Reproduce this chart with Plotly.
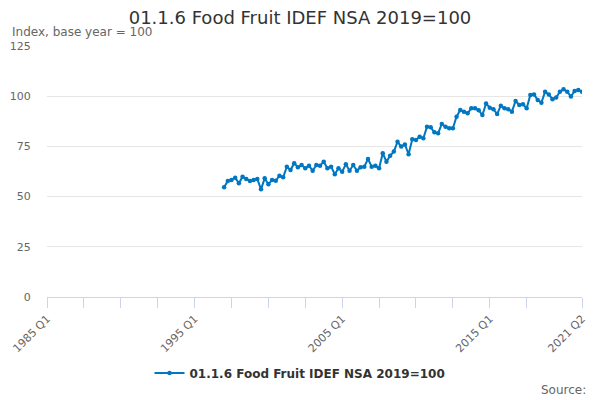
import plotly.graph_objects as go

# quarter categories on the axis: 1985 Q1 .. 2021 Q2
quarters = [f"{y} Q{q}" for y in range(1985, 2022) for q in range(1, 5)][:146]

series_name = "01.1.6 Food Fruit IDEF NSA 2019=100"
first_quarter = "1997 Q1"
values = [
    54.6, 57.8, 58.3, 59.4,   # 1997
    56.6, 59.9, 58.8, 57.8,   # 1998
    58.3, 58.8, 53.6, 59.1,   # 1999
    56.1, 58.3, 57.9, 60.4,   # 2000
    59.6, 64.9, 63.2, 66.6,   # 2001
    64.6, 65.7, 64.1, 65.4,   # 2002
    62.9, 65.7, 65.4, 67.4,   # 2003
    64.1, 64.9, 61.1, 64.1,   # 2004
    62.4, 66.1, 62.9, 65.7,   # 2005
    62.9, 64.6, 64.9, 68.7,   # 2006
    64.9, 65.4, 64.1, 71.6,   # 2007
    67.4, 70.4, 72.4, 77.3,   # 2008
    74.9, 76.0, 71.1, 78.5,   # 2009
    78.2, 79.8, 79.0, 84.8,   # 2010
    84.5, 82.0, 81.5, 86.2,   # 2011
    84.8, 84.0, 84.0, 89.8,   # 2012
    93.1, 92.3, 91.5, 94.0,   # 2013
    94.0, 93.0, 90.6, 96.4,   # 2014
    94.3, 93.5, 91.1, 95.3,   # 2015
    94.0, 93.5, 92.3, 97.6,   # 2016
    95.6, 96.0, 94.0, 100.6,  # 2017
    100.9, 98.1, 96.8, 102.2, # 2018
    100.9, 98.5, 99.3, 102.2, # 2019
    103.4, 102.2, 99.8, 102.6,# 2020
    103.1, 102.2,             # 2021
]

tick_idx = list(range(0, 131, 10)) + [145]
label_idx = [0, 40, 80, 120, 145]

start = quarters.index(first_quarter)
x = list(range(start, start + len(values)))
hover = [quarters[i] for i in x]

line_color = "#0077c0"
grey = "#666666"

fig = go.Figure()
fig.add_trace(go.Scatter(
    x=x, y=values, text=hover, name=series_name,
    mode="lines+markers",
    line=dict(color=line_color, width=2),
    marker=dict(color=line_color, size=4.5),
    hovertemplate="%{text}: %{y}<extra></extra>",
))

fig.update_layout(
    width=600, height=400,
    margin=dict(l=47, r=18, t=46, b=103),
    paper_bgcolor="white", plot_bgcolor="white",
    font=dict(family="DejaVu Sans", color=grey),
    title=dict(text=series_name, x=0.5, xanchor="center", y=1 - 18 / 400,
               yanchor="middle", font=dict(size=18, color="#333333")),
    showlegend=True,
    legend=dict(orientation="h", xref="container", yref="container",
                x=0.5, xanchor="center", y=1 - 373 / 400, yanchor="middle",
                font=dict(size=12, color="#333333", weight="bold")),
    annotations=[
        dict(text="Index, base year = 100", xref="paper", yref="paper",
             x=-47 / 535, xanchor="left", xshift=10, y=1, yshift=14,
             yanchor="middle", showarrow=False, font=dict(size=12, color=grey)),
        dict(text="Source:", xref="paper", yref="paper",
             x=1, xanchor="right", xshift=6, y=0, yshift=-93,
             yanchor="middle", showarrow=False, font=dict(size=12, color=grey)),
    ],
)

fig.update_xaxes(
    range=[0, 145], automargin=False,
    tickvals=tick_idx,
    ticktext=[quarters[i] if i in label_idx else "" for i in tick_idx],
    tickangle=-45,
    tickfont=dict(size=11, color=grey),
    showline=True, linecolor="#ccd6eb", linewidth=1,
    ticks="outside", ticklen=10, tickcolor="#ccd6eb",
    showgrid=False, zeroline=False,
)
fig.update_yaxes(
    range=[0, 125], automargin=False, tickvals=[0, 25, 50, 75, 100, 125],
    tickfont=dict(size=11, color=grey),
    showgrid=True, gridcolor="#e6e6e6", gridwidth=1,
    ticks="outside", ticklen=13, tickcolor="rgba(0,0,0,0)",
    zeroline=False, showline=False,
)

# drop the page's default body margin so the chart sits at the window's corner
fig.write_html(
    "out.html",
    config={"displayModeBar": False},
    post_script="document.body.style.margin = '0';",
)
